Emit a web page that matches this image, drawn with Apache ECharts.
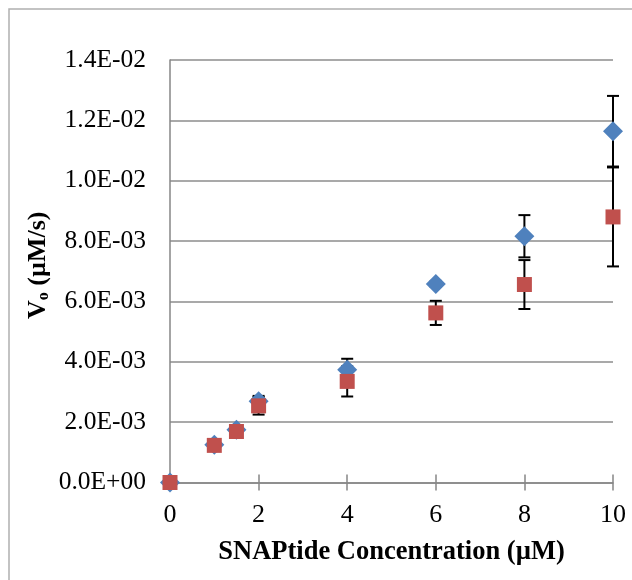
<!DOCTYPE html>
<html>
<head>
<meta charset="utf-8">
<script src="https://cdn.jsdelivr.net/npm/echarts@6/dist/echarts.min.js"></script>
<style>html,body{margin:0;padding:0;background:#fff;}#c{width:632px;height:580px;}</style>
</head>
<body>
<div id="c"></div>
<script>
// Data
var concentrations = [0, 1, 1.5, 2, 4, 6, 8, 10];
var seriesBlue = [0, 1.25e-3, 1.75e-3, 2.69e-3, 3.74e-3, 6.58e-3, 8.16e-3, 11.64e-3];
var seriesRed  = [0, 1.23e-3, 1.69e-3, 2.54e-3, 3.35e-3, 5.62e-3, 6.56e-3, 8.80e-3];
var errBlue = [0, 0, 0, 0.18e-3, 0.36e-3, 0.1e-3, 0.7e-3, 1.17e-3];
var errRed  = [0, 0, 0, 0.29e-3, 0.5e-3, 0.4e-3, 0.81e-3, 1.64e-3];
var yTickLabels = ['0.0E+00','2.0E-03','4.0E-03','6.0E-03','8.0E-03','1.0E-02','1.2E-02','1.4E-02'];
var xTickLabels = ['0','2','4','6','8','10'];

var FONT = '"Liberation Serif", "Times New Roman", serif';

function pairs(xs, ys){ return xs.map(function(x,i){ return [x, ys[i]]; }); }
function errData(xs, ys, es){ return xs.map(function(x,i){ return [x, ys[i]-es[i], ys[i]+es[i]]; }); }

function errRender(params, api){
  var x = api.value(0);
  if (api.value(2) - api.value(1) <= 0) return null;
  var lo = api.coord([x, api.value(1)]);
  var hi = api.coord([x, api.value(2)]);
  var hw = 6;
  var st = {stroke:'#000', lineWidth:2};
  return {type:'group', children:[
    {type:'line', shape:{x1:lo[0], y1:lo[1], x2:hi[0], y2:hi[1]}, style:st},
    {type:'line', shape:{x1:lo[0]-hw, y1:lo[1], x2:lo[0]+hw, y2:lo[1]}, style:st},
    {type:'line', shape:{x1:hi[0]-hw, y1:hi[1], x2:hi[0]+hw, y2:hi[1]}, style:st}
  ]};
}

var chart = echarts.init(document.getElementById('c'), null, {renderer:'canvas'});
chart.setOption({
  animation:false,
  backgroundColor:'#fff',
  graphic:[{type:'rect', shape:{x:9, y:9, width:640, height:600}, style:{fill:'none', stroke:'#b0b0b0', lineWidth:1.5}, z:-10}],
  grid:{left:170, right:19, top:60, bottom:97.5},
  xAxis:[{
    type:'value', min:0, max:10, interval:2,
    axisLine:{lineStyle:{color:'#868686', width:1.5}},
    axisTick:{show:true, length:8, lineStyle:{color:'#868686', width:1.5}},
    splitLine:{show:false},
    axisLabel:{color:'#000', fontFamily:FONT, fontSize:26, margin:20,
      formatter:function(v,i){ return xTickLabels[i]; }},
    name:'SNAPtide Concentration (µM)', nameLocation:'middle', nameGap:56, nameMoveOverlap:false,
    nameTextStyle:{color:'#000', fontFamily:FONT, fontSize:26.5, fontWeight:'bold'}
  },{
    type:'value', min:0, max:10, interval:2, position:'bottom',
    axisLine:{show:false},
    axisTick:{show:true, inside:true, length:8, lineStyle:{color:'#868686', width:1.5}},
    axisLabel:{show:false}, splitLine:{show:false}
  }],
  yAxis:{
    type:'value', min:0, max:0.014, interval:0.002,
    axisLine:{show:true, lineStyle:{color:'#868686', width:1.5}},
    axisTick:{show:false},
    splitLine:{show:true, lineStyle:{color:'#8c8c8c', width:1.5}},
    axisLabel:{color:'#000', fontFamily:FONT, fontSize:25.5, margin:24,
      formatter:function(v,i){ return yTickLabels[i]; }},
    name:'V{sub|o} (µM/s)', nameLocation:'middle', nameGap:118, nameRotate:90, nameMoveOverlap:false,
    nameTextStyle:{color:'#000', fontFamily:FONT, fontSize:26, fontWeight:'bold', padding:[0,0,0,12],
      rich:{sub:{fontFamily:FONT, fontSize:16, fontWeight:'bold', color:'#000', verticalAlign:'bottom', padding:[12,0,0,0]}}}
  },
  series:[
    {type:'custom', name:'errBlue', renderItem:errRender, data:errData(concentrations, seriesBlue, errBlue), encode:{x:0, y:[1,2]}, z:1},
    {type:'custom', name:'errRed', renderItem:errRender, data:errData(concentrations, seriesRed, errRed), encode:{x:0, y:[1,2]}, z:1},
    {type:'scatter', name:'Blue', data:pairs(concentrations, seriesBlue), symbol:'diamond', symbolSize:[20,20], itemStyle:{color:'#4F81BD', opacity:1}, z:3},
    {type:'scatter', name:'Red', data:pairs(concentrations, seriesRed), symbol:'rect', symbolSize:[15,15], itemStyle:{color:'#C0504D', opacity:1}, z:4}
  ]
});
</script>
</body>
</html>
